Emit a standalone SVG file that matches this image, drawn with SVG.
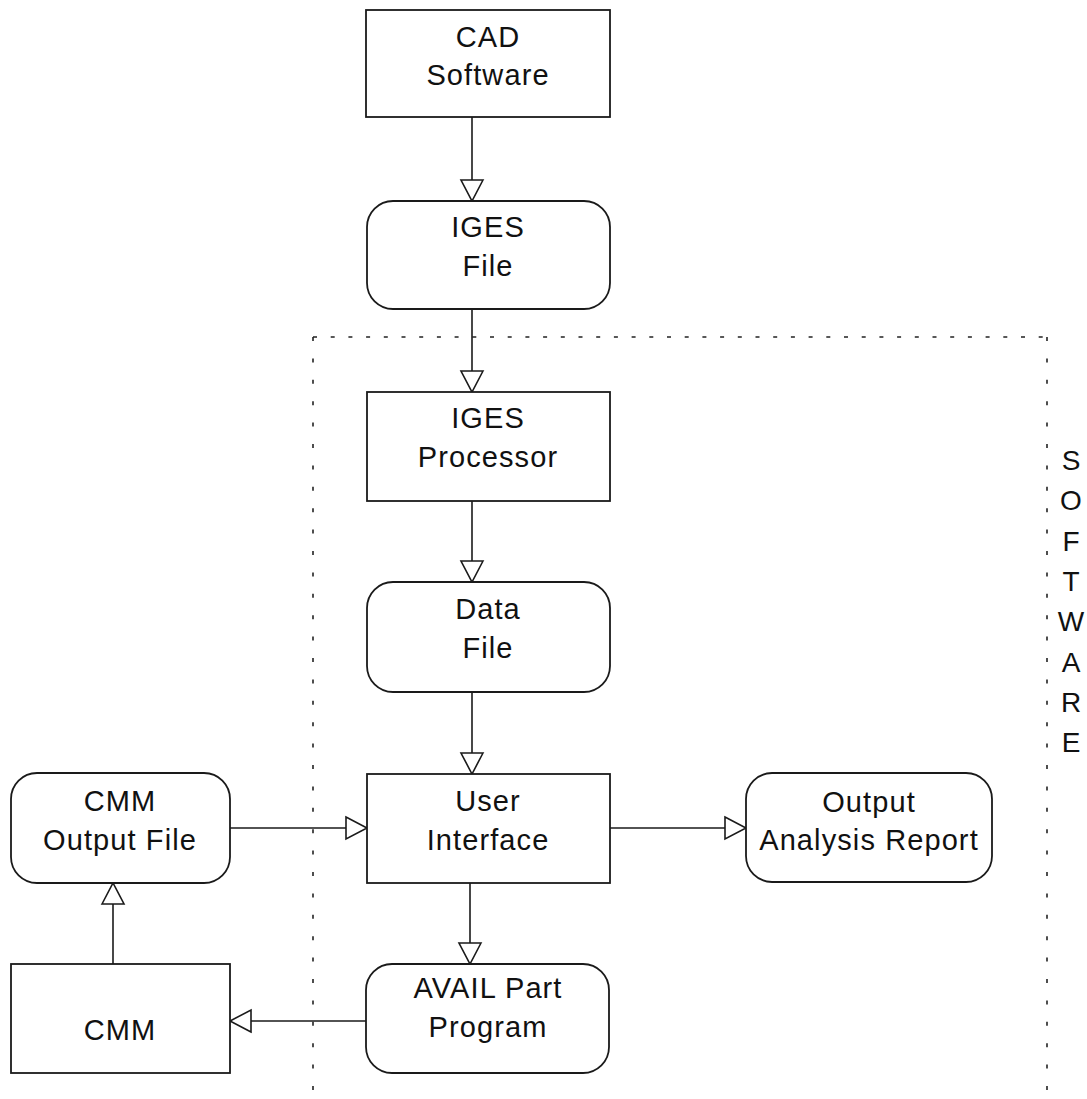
<svg xmlns="http://www.w3.org/2000/svg" width="1087" height="1099" viewBox="0 0 1087 1099">
<defs>
<style>
.box{fill:#fff;stroke:#1a1a1a;stroke-width:1.8}
.lbl{font-family:"Liberation Sans",Arial,sans-serif;font-size:29px;letter-spacing:1.1px;fill:#111;text-anchor:middle}
.conn{fill:none;stroke:#1a1a1a;stroke-width:1.6}
.dash-h{fill:none;stroke:#222;stroke-width:1.6;stroke-dasharray:4 13.7}
.dash-v{fill:none;stroke:#222;stroke-width:1.6;stroke-dasharray:4 17.4}
.side{font-family:"Liberation Sans",Arial,sans-serif;font-size:28px;fill:#111;text-anchor:middle}
</style>
<marker id="tri" markerUnits="userSpaceOnUse" markerWidth="26" markerHeight="26" refX="21" refY="11" orient="auto" overflow="visible">
<path d="M0,0 L21,11 L0,22 Z" fill="#fff" stroke="#1a1a1a" stroke-width="1.6" stroke-linejoin="miter"/>
</marker>
</defs>
<rect width="1087" height="1099" fill="#fff"/>

<g id="software-boundary">
<path class="dash-h" d="M313,337 H1047"/>
<path class="dash-v" d="M313,337 V1099"/>
<path class="dash-v" d="M1047,337 V1099"/>
<g id="software-label">
<text class="side" x="1071" y="470">S</text>
<text class="side" x="1071" y="510">O</text>
<text class="side" x="1071" y="551">F</text>
<text class="side" x="1071" y="591">T</text>
<text class="side" x="1071" y="631">W</text>
<text class="side" x="1071" y="672">A</text>
<text class="side" x="1071" y="712">R</text>
<text class="side" x="1071" y="752">E</text>
</g>
</g>

<g id="connectors">
<path class="conn" d="M472,117 V201" marker-end="url(#tri)"/>
<path class="conn" d="M472,309 V392" marker-end="url(#tri)"/>
<path class="conn" d="M472,501 V582" marker-end="url(#tri)"/>
<path class="conn" d="M472,692 V774" marker-end="url(#tri)"/>
<path class="conn" d="M470,883 V964" marker-end="url(#tri)"/>
<path class="conn" d="M230,828 H367" marker-end="url(#tri)"/>
<path class="conn" d="M610,828 H746" marker-end="url(#tri)"/>
<path class="conn" d="M366,1021 H230" marker-end="url(#tri)"/>
<path class="conn" d="M113,964 V883" marker-end="url(#tri)"/>
</g>

<g id="cad-software">
<rect class="box" x="366" y="10" width="244" height="107"/>
<text class="lbl" x="488" y="47">CAD</text>
<text class="lbl" x="488" y="85">Software</text>
</g>

<g id="iges-file">
<rect class="box" x="367" y="201" width="243" height="108" rx="26" ry="26"/>
<text class="lbl" x="488" y="237">IGES</text>
<text class="lbl" x="488" y="276">File</text>
</g>

<g id="iges-processor">
<rect class="box" x="367" y="392" width="243" height="109"/>
<text class="lbl" x="488" y="428">IGES</text>
<text class="lbl" x="488" y="467">Processor</text>
</g>

<g id="data-file">
<rect class="box" x="367" y="582" width="243" height="110" rx="26" ry="26"/>
<text class="lbl" x="488" y="619">Data</text>
<text class="lbl" x="488" y="658">File</text>
</g>

<g id="user-interface">
<rect class="box" x="367" y="774" width="243" height="109"/>
<text class="lbl" x="488" y="811">User</text>
<text class="lbl" x="488" y="850">Interface</text>
</g>

<g id="output-analysis-report">
<rect class="box" x="746" y="773" width="246" height="109" rx="26" ry="26"/>
<text class="lbl" x="869" y="812">Output</text>
<text class="lbl" x="869" y="850">Analysis Report</text>
</g>

<g id="cmm-output-file">
<rect class="box" x="11" y="773" width="219" height="110" rx="26" ry="26"/>
<text class="lbl" x="120" y="811">CMM</text>
<text class="lbl" x="120" y="850">Output File</text>
</g>

<g id="cmm">
<rect class="box" x="11" y="964" width="219" height="109"/>
<text class="lbl" x="120" y="1040">CMM</text>
</g>

<g id="avail-part-program">
<rect class="box" x="366" y="964" width="243" height="109" rx="26" ry="26"/>
<text class="lbl" x="488" y="998">AVAIL Part</text>
<text class="lbl" x="488" y="1037">Program</text>
</g>
</svg>
